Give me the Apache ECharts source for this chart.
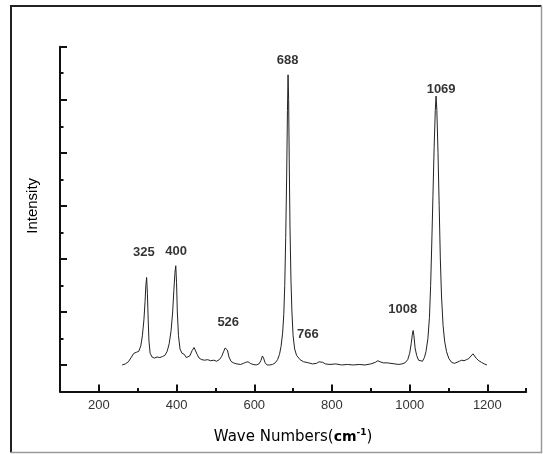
<!DOCTYPE html>
<html>
<head>
<meta charset="utf-8">
<script src="https://cdn.jsdelivr.net/npm/echarts@6/dist/echarts.min.js"></script>
<style>
    html, body { margin: 0; padding: 0; background: #fff; }
    #chart { width: 543px; height: 454px; }
</style>
</head>
<body>
<div id="chart"></div>
<script>
    // Raman spectrum (wave number, intensity in tick units)
    const waveNumbers = [
        260, 268, 276, 284, 290, 297, 303, 308, 312, 316, 319, 321, 323, 325, 327, 329, 332, 337, 343, 350,
        357, 364, 370, 376, 381, 386, 390, 393, 396, 398, 400, 402, 405, 409, 414, 420, 425, 429, 434, 440,
        445, 449, 453, 458, 465, 472, 480, 488, 496, 503, 510, 516, 521, 525, 528, 531, 535, 540, 546, 555,
        565, 572, 578, 584, 590, 597, 605, 612, 617, 621, 624, 628, 633, 640, 647, 654, 660, 665, 669, 673,
        676, 678.5, 681, 683.5, 685.5, 687, 688.5, 690, 692, 694.5, 697, 700, 704, 709, 718, 727, 740, 750, 760, 767,
        771, 776, 783, 795, 810, 825, 840, 855, 870, 885, 900, 912, 918, 924, 932, 942, 952, 962, 972, 980,
        988, 995, 1000, 1004, 1007, 1009, 1011, 1014, 1018, 1023, 1028, 1033, 1038, 1042, 1047, 1051, 1054, 1057, 1060, 1063,
        1066, 1068, 1070, 1073, 1076, 1079, 1082, 1086, 1090, 1095, 1101, 1108, 1115, 1122, 1128, 1134, 1140, 1146, 1152, 1158,
        1163, 1167, 1172, 1178, 1185, 1192, 1199
    ];
    const intensities = [
        0.00, 0.02, 0.06, 0.15, 0.22, 0.24, 0.26, 0.36, 0.55, 0.85, 1.20, 1.50, 1.65, 1.35, 0.85, 0.45, 0.22, 0.15, 0.13, 0.15,
        0.14, 0.16, 0.18, 0.26, 0.40, 0.65, 1.00, 1.40, 1.75, 1.87, 1.55, 1.00, 0.55, 0.30, 0.22, 0.20, 0.14, 0.12, 0.17, 0.27,
        0.33, 0.31, 0.20, 0.13, 0.10, 0.09, 0.10, 0.08, 0.09, 0.07, 0.10, 0.16, 0.25, 0.32, 0.35, 0.28, 0.15, 0.07, 0.04, 0.02,
        0.01, 0.03, 0.05, 0.06, 0.03, 0.01, 0.00, 0.02, 0.08, 0.17, 0.13, 0.04, 0.00, 0.00, 0.01, 0.04, 0.10, 0.20, 0.35, 0.60,
        0.95, 1.50, 2.40, 3.60, 4.80, 5.47, 5.00, 3.90, 2.60, 1.60, 1.00, 0.55, 0.30, 0.18, 0.10, 0.06, 0.04, 0.02, 0.03, 0.06,
        0.08, 0.05, 0.02, 0.01, 0.02, 0.00, 0.01, 0.00, 0.01, 0.00, 0.02, 0.05, 0.08, 0.06, 0.04, 0.04, 0.03, 0.02, 0.01, 0.02,
        0.04, 0.10, 0.22, 0.40, 0.58, 0.65, 0.55, 0.32, 0.18, 0.09, 0.06, 0.07, 0.14, 0.25, 0.50, 0.90, 1.50, 2.30, 3.20, 4.10,
        4.80, 5.07, 4.80, 4.00, 3.00, 2.00, 1.30, 0.75, 0.45, 0.25, 0.12, 0.05, 0.03, 0.05, 0.07, 0.09, 0.08, 0.10, 0.12, 0.17,
        0.21, 0.18, 0.12, 0.08, 0.05, 0.02, 0.00
    ];

    // peak annotations: text and where it sits (axis units)
    const peakNames = ['325', '400', '526', '688', '766', '1008', '1069'];
    const peakLabelX = [316, 399, 533, 686, 738, 982, 1081];
    const peakLabelY = [2.13, 2.15, 0.80, 5.75, 0.57, 1.05, 5.20];

    // axis tick values: min, max, step
    const xMajorTicks = [200, 1200, 200];
    const xMinorTicks = [100, 1300, 100];
    const yMajorTicks = [0, 6, 1];
    const yMinorTicks = [-0.5, 6, 0.5];

    const spectrum = waveNumbers.map((w, i) => [w, intensities[i]]);
    const peaks = peakNames.map((n, i) => ({ name: n, value: [peakLabelX[i], peakLabelY[i]] }));

    const chart = echarts.init(document.getElementById('chart'));

    // plot box in pixels; the second grid only carries the long ticks and lines up with the first
    const plotLeft = 60, plotRight = 526.2, plotTop = 46.7, plotBottom = 391.5;
    const kx = (plotRight - plotLeft) / (xMinorTicks[1] - xMinorTicks[0]);
    const ky = (plotBottom - plotTop) / (yMinorTicks[1] - yMinorTicks[0]);
    const g1Left = plotLeft + (xMajorTicks[0] - xMinorTicks[0]) * kx;
    const g1Right = plotLeft + (xMajorTicks[1] - xMinorTicks[0]) * kx;
    const g1Bottom = plotBottom - (yMajorTicks[0] - yMinorTicks[0]) * ky;

    const black = '#111';

    chart.setOption({
        animation: false,
        backgroundColor: '#fff',
        graphic: [{
            type: 'polyline',
            shape: { points: [[11, 452.5], [11, 6], [541.5, 6]] },
            style: { stroke: '#222', lineWidth: 2, fill: null }
        }, {
            type: 'polyline',
            shape: { points: [[541.5, 6], [541.5, 452.5], [11, 452.5]] },
            style: { stroke: '#9a9a9a', lineWidth: 1.5, fill: null }
        }],
        grid: [{
            left: plotLeft, top: plotTop, width: plotRight - plotLeft, height: plotBottom - plotTop
        }, {
            left: g1Left, top: plotTop, width: g1Right - g1Left, height: g1Bottom - plotTop
        }],
        xAxis: [{
            type: 'value', gridIndex: 0,
            min: xMinorTicks[0], max: xMinorTicks[1], interval: xMinorTicks[2],
            axisLine: { onZero: false, lineStyle: { color: black, width: 2 } },
            axisTick: { inside: true, length: 3.5, lineStyle: { color: black, width: 2 } },
            axisLabel: { show: false },
            splitLine: { show: false },
            name: '{a|Wave Numbers(}{b|cm}{c|-1}{a|)}',
            nameLocation: 'middle',
            nameGap: 37,
            nameTextStyle: {
                rich: {
                    a: { fontFamily: 'DejaVu Sans', fontSize: 15, color: '#000', lineHeight: 18 },
                    b: { fontFamily: 'DejaVu Sans', fontSize: 14, fontWeight: 'bold', color: '#000', lineHeight: 18 },
                    c: { fontFamily: 'DejaVu Sans', fontSize: 9, fontWeight: 'bold', color: '#000', verticalAlign: 'top', lineHeight: 18 }
                }
            }
        }, {
            type: 'value', gridIndex: 1,
            min: xMajorTicks[0], max: xMajorTicks[1], interval: xMajorTicks[2],
            offset: plotBottom - g1Bottom,
            axisLine: { show: false, onZero: false },
            axisTick: { inside: true, length: 7, lineStyle: { color: black, width: 2 } },
            axisLabel: {
                color: '#333', fontSize: 13, fontFamily: 'Liberation Sans', margin: 7,
                formatter: v => String(v)
            },
            splitLine: { show: false }
        }],
        yAxis: [{
            type: 'value', gridIndex: 0,
            min: yMinorTicks[0], max: yMinorTicks[1], interval: yMinorTicks[2],
            axisLine: { show: true, onZero: false, lineStyle: { color: black, width: 2 } },
            axisTick: { show: true, inside: true, length: 3.5, lineStyle: { color: black, width: 2 } },
            axisLabel: { show: false },
            splitLine: { show: false }
        }, {
            type: 'value', gridIndex: 1,
            min: yMajorTicks[0], max: yMajorTicks[1], interval: yMajorTicks[2],
            offset: g1Left - plotLeft,
            axisLine: { show: false, onZero: false },
            axisTick: { show: true, inside: true, length: 7, lineStyle: { color: black, width: 2 } },
            axisLabel: { show: false },
            splitLine: { show: false },
            name: 'Intensity',
            nameLocation: 'middle',
            nameGap: 20,
            nameTextStyle: { fontFamily: 'Liberation Sans', fontSize: 15, color: '#000' }
        }],
        series: [{
            type: 'line',
            xAxisIndex: 0, yAxisIndex: 0,
            data: spectrum,
            showSymbol: false,
            lineStyle: { color: '#222', width: 1 }
        }, {
            type: 'scatter',
            xAxisIndex: 0, yAxisIndex: 0,
            data: peaks,
            symbolSize: 0,
            label: {
                show: true,
                position: 'inside',
                formatter: '{b}',
                color: '#000',
                fontFamily: 'Liberation Sans',
                fontWeight: 'bold',
                fontSize: 13
            }
        }]
    });
</script>
</body>
</html>
